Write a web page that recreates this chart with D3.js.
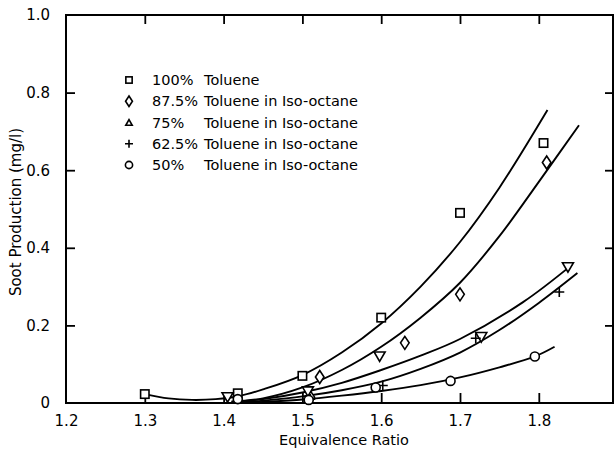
<!DOCTYPE html>
<html><head><meta charset="utf-8">
<script src="https://cdn.jsdelivr.net/npm/d3@7"></script>
<style>
html,body{margin:0;padding:0;background:#fff;}
svg{display:block;font-family:"DejaVu Sans",sans-serif;}
</style></head>
<body>
<svg id="chart" width="614" height="450"></svg>
<script>
// ---- data ----
const xTicks = [1.2, 1.3, 1.4, 1.5, 1.6, 1.7, 1.8];
const yTicks = [0, 0.2, 0.4, 0.6, 0.8, 1.0];
const yTickLabels = ["0", "0.2", "0.4", "0.6", "0.8", "1.0"];

const legendPct = ["100%", "87.5%", "75%", "62.5%", "50%"];
const legendText = ["Toluene", "Toluene in Iso-octane", "Toluene in Iso-octane", "Toluene in Iso-octane", "Toluene in Iso-octane"];
const symbols = ["square", "diamond", "triangle", "plus", "circle"];

// measured points
const squareX = [1.30, 1.418, 1.50, 1.60, 1.70, 1.806];
const squareY = [0.023, 0.025, 0.07, 0.22, 0.49, 0.67];
const diamondX = [1.51, 1.522, 1.63, 1.70, 1.81];
const diamondY = [0.015, 0.067, 0.155, 0.28, 0.62];
const triangleX = [1.405, 1.507, 1.598, 1.727, 1.837];
const triangleY = [0.015, 0.03, 0.12, 0.17, 0.35];
const plusX = [1.51, 1.602, 1.72, 1.826];
const plusY = [0.01, 0.045, 0.167, 0.286];
const circleX = [1.418, 1.508, 1.593, 1.688, 1.795];
const circleY = [0.01, 0.008, 0.04, 0.057, 0.12];

// fitted curves
const curve1X = [1.30, 1.33, 1.36, 1.39, 1.42, 1.45, 1.50, 1.55, 1.60, 1.65, 1.70, 1.75, 1.811];
const curve1Y = [0.023, 0.012, 0.008, 0.010, 0.018, 0.035, 0.072, 0.13, 0.205, 0.30, 0.415, 0.555, 0.755];
const curve2X = [1.41, 1.45, 1.50, 1.55, 1.60, 1.65, 1.70, 1.75, 1.80, 1.851];
const curve2Y = [0.004, 0.012, 0.04, 0.085, 0.145, 0.22, 0.31, 0.43, 0.57, 0.716];
const curve3X = [1.41, 1.45, 1.50, 1.55, 1.60, 1.65, 1.70, 1.78, 1.842];
const curve3Y = [0.003, 0.01, 0.027, 0.052, 0.085, 0.122, 0.165, 0.26, 0.356];
const curve4X = [1.415, 1.45, 1.50, 1.55, 1.60, 1.65, 1.70, 1.75, 1.80, 1.849];
const curve4Y = [0.0, 0.006, 0.017, 0.033, 0.055, 0.088, 0.13, 0.188, 0.258, 0.335];
const curve5X = [1.42, 1.45, 1.50, 1.55, 1.60, 1.65, 1.70, 1.75, 1.795, 1.82];
const curve5Y = [0.0, 0.003, 0.009, 0.019, 0.031, 0.046, 0.066, 0.092, 0.12, 0.145];

// ---- drawing ----
const svg = d3.select("#chart");
const x = d3.scaleLinear().domain([1.2, 1.9]).range([66, 617.6]);
const y = d3.scaleLinear().domain([0, 1]).range([403, 15]);
const frameL = 66, frameR = 613, frameT = 15, frameB = 403;

// curves
const line = d3.line().x(d => x(d[0])).y(d => y(d[1])).curve(d3.curveCatmullRom.alpha(0.5));
const curves = [[curve1X, curve1Y], [curve2X, curve2Y], [curve3X, curve3Y], [curve4X, curve4Y], [curve5X, curve5Y]];
svg.append("g").selectAll("path").data(curves).join("path")
  .attr("d", c => line(d3.zip(c[0], c[1])))
  .attr("fill", "none").attr("stroke", "#000").attr("stroke-width", 1.9);

// frame
svg.append("rect").attr("x", frameL).attr("y", frameT)
  .attr("width", frameR - frameL).attr("height", frameB - frameT)
  .attr("fill", "none").attr("stroke", "#000").attr("stroke-width", 2);

// axes (ticks inward)
const gBottom = svg.append("g").attr("transform", `translate(0,${frameB})`)
  .call(d3.axisBottom(x).tickValues(xTicks).tickSizeInner(-10).tickSizeOuter(0).tickPadding(12).tickFormat(d3.format(".1f")));
const gTop = svg.append("g").attr("transform", `translate(0,${frameT})`)
  .call(d3.axisTop(x).tickValues(xTicks.slice(1)).tickSizeInner(-9).tickSizeOuter(0).tickFormat(""));
const gLeft = svg.append("g").attr("transform", `translate(${frameL},0)`)
  .call(d3.axisLeft(y).tickValues(yTicks).tickSizeInner(-9).tickSizeOuter(0).tickPadding(16)
    .tickFormat((d, i) => yTickLabels[i]));
const gRight = svg.append("g").attr("transform", `translate(${frameR},0)`)
  .call(d3.axisRight(y).tickValues(yTicks.slice(1, 5)).tickSizeInner(-8).tickSizeOuter(0).tickFormat(""));
[gBottom, gTop, gLeft, gRight].forEach(g => {
  g.select(".domain").remove();
  g.selectAll("line").attr("stroke", "#000").attr("stroke-width", 1.8);
  g.selectAll("text").attr("fill", "#000").attr("font-size", 15).attr("font-family", "DejaVu Sans");
});
gLeft.selectAll(".tick").filter(d => d === 0 || d === 1).select("line").remove();
gBottom.selectAll(".tick").filter(d => d === 1.2).select("line").remove();

// axis titles
svg.append("text").attr("x", 344).attr("y", 445).attr("text-anchor", "middle")
  .attr("font-size", 14.5).text("Equivalence Ratio");
svg.append("text").attr("transform", "translate(21,212) rotate(-90)").attr("text-anchor", "middle")
  .attr("font-size", 15).text("Soot Production (mg/l)");

// symbols
function drawSymbol(g, type, cx, cy, s) {
  const st = {fill: "#fff", stroke: "#000", "stroke-width": 1.6};
  let el;
  if (type === "square") {
    el = g.append("rect").attr("x", cx - 4.2 * s).attr("y", cy - 4.2 * s).attr("width", 8.4 * s).attr("height", 8.4 * s);
  } else if (type === "diamond") {
    el = g.append("path").attr("d", `M${cx},${cy - 6.5 * s}L${cx + 4.3 * s},${cy}L${cx},${cy + 6.5 * s}L${cx - 4.3 * s},${cy}Z`);
  } else if (type === "triangle") {
    el = g.append("path").attr("d", `M${cx - 5.5 * s},${cy - 4.5 * s}L${cx + 5.5 * s},${cy - 4.5 * s}L${cx},${cy + 5 * s}Z`);
  } else if (type === "triangleUp") {
    el = g.append("path").attr("d", `M${cx - 4 * s},${cy + 3.5 * s}L${cx + 4 * s},${cy + 3.5 * s}L${cx},${cy - 3.5 * s}Z`);
  } else if (type === "plus") {
    el = g.append("path").attr("d", `M${cx - 5 * s},${cy}H${cx + 5 * s}M${cx},${cy - 5 * s}V${cy + 5 * s}`);
    st.fill = "none";
  } else {
    el = g.append("circle").attr("cx", cx).attr("cy", cy).attr("r", 4.5 * s);
  }
  Object.entries(st).forEach(([k, v]) => el.attr(k, v));
}
const series = [[squareX, squareY], [diamondX, diamondY], [triangleX, triangleY], [plusX, plusY], [circleX, circleY]];
const gm = svg.append("g");
series.forEach((s, i) => {
  d3.zip(s[0], s[1]).forEach(p => drawSymbol(gm, symbols[i], x(p[0]), y(p[1]), 1));
});

// legend
const lg = svg.append("g");
const legY = d3.scalePoint().domain(d3.range(legendPct.length)).range([80, 165]);
legendPct.forEach((p, i) => {
  const yy = legY(i);
  const sym = symbols[i] === "triangle" ? "triangleUp" : symbols[i];
  drawSymbol(lg, sym, 129, yy, symbols[i] === "square" ? 0.75 : 0.8);
  lg.append("text").attr("x", 152).attr("y", yy + 5).attr("font-size", 14.5).text(p);
  lg.append("text").attr("x", 204).attr("y", yy + 5).attr("font-size", 14.5).text(legendText[i]);
});
</script>
</body></html>
